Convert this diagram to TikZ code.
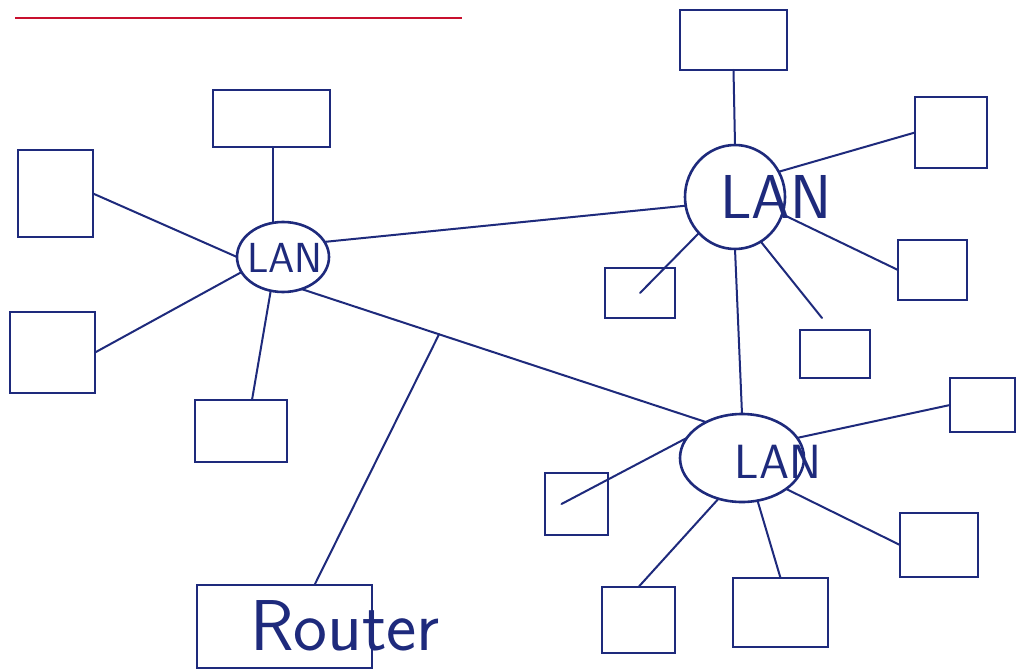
\documentclass[tikz,border=0pt]{standalone}
\usepackage{fontspec}
\usetikzlibrary{shapes.geometric,calc}
\definecolor{ink}{HTML}{1E2A7C}
\definecolor{redink}{HTML}{C8102E}
\begin{document}
\begin{tikzpicture}[x=1pt,y=-1pt,
  pc/.style={draw=ink,line width=2.6pt,minimum width=#1,inner sep=0pt,outer sep=0pt},
  lan/.style={ellipse,draw=ink,line width=2.6pt,inner sep=0pt,outer sep=0pt},
  wire/.style={draw=ink,line width=2pt,line cap=round},
  lbl/.style={text=ink,font=\sffamily,inner sep=0pt}]
\useasboundingbox (0,0) rectangle (1019,671);
\fill[white] (0,0) rectangle (1019,671);

% heading rule
\coordinate (hl) at (15,18);
\coordinate (hr) at (462,18);
\draw[redink,line width=2.6pt] (hl) -- (hr);

% left LAN and its hosts
\node[lan,minimum width=92pt,minimum height=70pt] (L1) at (283,257) {};
\node[lbl,font=\sffamily\fontsize{42}{42}\selectfont] at (285,258) {LAN};
\node[pc=117pt,minimum height=57pt] (A1) at (271.5,118.5) {};
\node[pc=75pt,minimum height=87pt] (A2) at (55.5,193.5) {};
\node[pc=85pt,minimum height=81pt] (A3) at (52.5,352.5) {};
\node[pc=92pt,minimum height=62pt] (A4) at (241,431) {};
\node[pc=175pt,minimum height=83pt] (R) at (284.5,626.5) {};
\node[lbl,font=\sffamily\fontsize{72}{72}\selectfont] at (345,626) {Router};

% upper right LAN and its hosts
\node[lan,minimum width=100pt,minimum height=104pt] (L2) at (735,197) {};
\node[lbl,font=\sffamily\fontsize{62}{62}\selectfont] at (776,197) {LAN};
\node[pc=107pt,minimum height=60pt] (B1) at (733.5,40) {};
\node[pc=72pt,minimum height=71pt] (B2) at (951,132.5) {};
\node[pc=69pt,minimum height=60pt] (B3) at (932.5,270) {};
\node[pc=70pt,minimum height=50pt] (B4) at (640,293) {};
\node[pc=70pt,minimum height=48pt] (B5) at (835,354) {};

% lower LAN and its hosts
\node[lan,minimum width=124pt,minimum height=88pt] (L3) at (742,458) {};
\node[lbl,font=\sffamily\fontsize{48}{48}\selectfont] at (778,462) {LAN};
\node[pc=65pt,minimum height=54pt] (C1) at (982.5,405) {};
\node[pc=78pt,minimum height=64pt] (C2) at (939,545) {};
\node[pc=63pt,minimum height=62pt] (C3) at (576.5,504) {};
\node[pc=73pt,minimum height=66pt] (C4) at (638.5,620) {};
\node[pc=95pt,minimum height=69pt] (C5) at (780.5,612.5) {};

% links of the left LAN
\draw[wire] ($(A1.south)+(1.5,0)$) -- ($(L1.north)+(-10,1)$);
\draw[wire] (A2.east) -- (L1.west);
\draw[wire] (A3.east) -- (L1.200);
\draw[wire] (L1.250) -- ($(A4.north)+(11,0)$);

% backbone between the LANs
\draw[wire] (L1.20) -- (L2.190);
\draw[wire] (L1.300) -- (L3.135);
\coordinate (tap) at ($(L1.300)!0.34!(L3.135)$);
\draw[wire] (tap) -- ($(R.north)+(30,0)$);
\draw[wire] (L2.south) -- (L3.north);

% links of the upper right LAN
\draw[wire] (B1.south) -- (L2.north);
\draw[wire] (L2.30) -- (B2.west);
\draw[wire] (L2.-20) -- (B3.west);
\draw[wire] (L2.225) -- (B4.center);
\draw[wire] (L2.-60) -- ($(B5.north)+(-13,-12)$);

% links of the lower LAN
\draw[wire] (L3.20) -- (C1.west);
\draw[wire] (L3.-35) -- (C2.west);
\draw[wire] (L3.160) -- ($(C3.center)+(-15,0)$);
\draw[wire] (L3.240) -- (C4.north);
\draw[wire] (L3.290) -- (C5.north);
\end{tikzpicture}
\end{document}
